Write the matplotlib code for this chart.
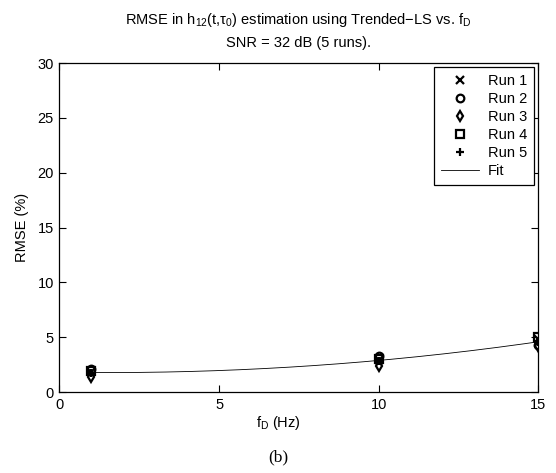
import numpy as np
import matplotlib
matplotlib.use("Agg")
import matplotlib.pyplot as plt

plt.rcParams['font.family'] = ['Liberation Sans', 'DejaVu Sans']
plt.rcParams['mathtext.fontset'] = 'custom'
plt.rcParams['mathtext.rm'] = 'Liberation Sans'
plt.rcParams['mathtext.it'] = 'Liberation Sans'
plt.rcParams['mathtext.default'] = 'regular'

fd = [1, 10, 15]
run1 = [1.8, 2.9, 4.8]
run2 = [2.1, 3.3, 4.3]
run3 = [1.4, 2.4, 4.2]
run4 = [1.9, 3.0, 5.0]
run5 = [1.7, 2.8, 4.6]
runs = [run1, run2, run3, run4, run5]
labels = ['Run 1', 'Run 2', 'Run 3', 'Run 4', 'Run 5']
markers = ['x', 'o', 'd', 's', '+']

fig = plt.figure(figsize=(5.56, 4.73), dpi=100)
ax = fig.add_axes([0.107, 0.1712, 0.861, 0.6956])

for r, lab, m in zip(runs, labels, markers):
    ax.plot(fd, r, linestyle='none', marker=m, markersize=5.5, markerfacecolor='none',
            markeredgecolor='black', markeredgewidth=1.6, label=lab)

allx = np.concatenate([fd] * len(runs))
ally = np.concatenate(runs)
coef = np.polyfit(allx, ally, 2)
xf = np.linspace(min(fd), max(fd), 200)
ax.plot(xf, np.polyval(coef, xf), color='black', linewidth=0.6, label='Fit')

ax.set_xlim(0, 15)
ax.set_ylim(0, 30)
ax.set_xticks([0, 5, 10, 15])
ax.set_yticks([0, 5, 10, 15, 20, 25, 30])
ax.tick_params(direction='in', top=True, right=True, labelsize=10.5, length=5, pad=4)
for s in ax.spines.values():
    s.set_linewidth(0.9)

fig.text(0.5, 0.106, 'f$_D$ (Hz)', ha='center', va='center', fontsize=10.5)
fig.text(0.04, 0.1712 + 0.6956 / 2, 'RMSE (%)', ha='center', va='center',
         rotation=90, fontsize=10.5)
fig.text(0.537, 0.957, 'RMSE in h$_{12}$(t,$\\tau_0$) estimation using Trended$-$LS vs. f$_D$',
         ha='center', va='center', fontsize=10.5)
fig.text(0.537, 0.909, 'SNR = 32 dB (5 runs).', ha='center', va='center', fontsize=10.5)

leg = ax.legend(loc='upper right', fontsize=10.5, frameon=True, fancybox=False,
                edgecolor='black', framealpha=1, borderaxespad=0.3, borderpad=0.45,
                handlelength=2.6, handletextpad=0.65, labelspacing=0.28)
leg.get_frame().set_linewidth(0.9)

fig.text(0.5, 0.032, '(b)', ha='center', va='center', fontsize=12.5, family='Liberation Serif')

fig.savefig('out.png', dpi=100)
